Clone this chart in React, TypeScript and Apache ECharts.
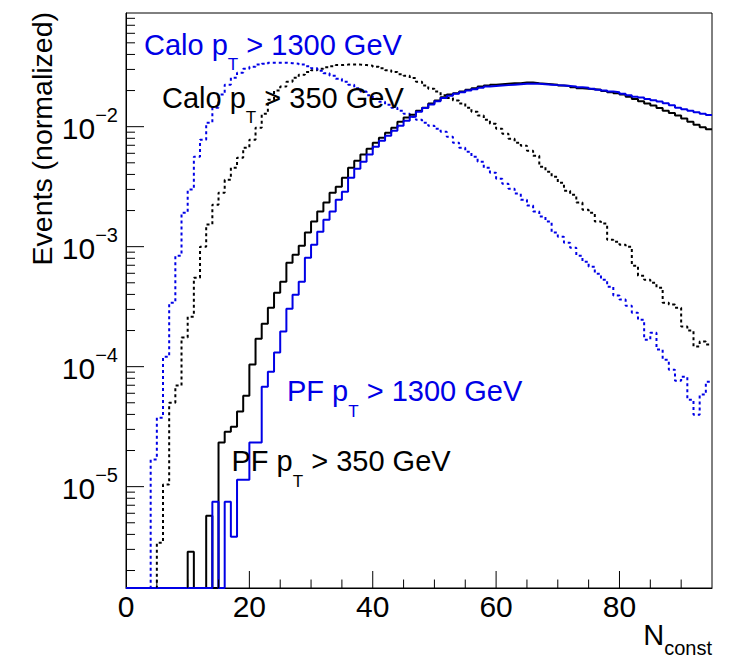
import React, { useEffect, useRef } from "react";
import * as echarts from "echarts";

// ---- data (per-bin contents, bins of width 1 from 0 to 95) ----
const X_MIN = 0;
const X_MAX = 95;
const Y_MIN = 1.43e-6;
const Y_MAX = 0.0886;

const CALO_1300 = [
  0, 0, 0, 0, 1.68e-5, 3.76e-5, 1.21e-4, 3.41e-4, 8.41e-4, 1.92e-3,
  2.99e-3, 5.62e-3, 7.8e-3, 1.08e-2, 1.44e-2, 1.85e-2, 2.24e-2, 2.56e-2, 2.82e-2, 3.04e-2,
  3.16e-2, 3.29e-2, 3.35e-2, 3.41e-2, 3.41e-2, 3.41e-2, 3.38e-2, 3.35e-2, 3.29e-2, 3.19e-2,
  3.07e-2, 2.93e-2, 2.79e-2, 2.66e-2, 2.51e-2, 2.37e-2, 2.24e-2, 2.09e-2, 1.96e-2, 1.83e-2,
  1.71e-2, 1.61e-2, 1.52e-2, 1.44e-2, 1.36e-2, 1.28e-2, 1.21e-2, 1.14e-2, 1.08e-2, 1.02e-2,
  9.62e-3, 9.09e-3, 8.25e-3, 7.36e-3, 6.68e-3, 6.19e-3, 5.62e-3, 5.11e-3, 4.55e-3, 4.14e-3,
  3.69e-3, 3.35e-3, 3.04e-3, 2.77e-3, 2.46e-3, 2.2e-3, 1.96e-3, 1.78e-3, 1.62e-3, 1.31e-3,
  1.21e-3, 1.08e-3, 9.81e-4, 8.41e-4, 7.5e-4, 6.81e-4, 5.96e-4, 5.31e-4, 4.64e-4, 3.91e-4,
  3.62e-4, 3.22e-4, 2.82e-4, 2.46e-4, 1.68e-4, 1.92e-4, 1.39e-4, 1.14e-4, 9.44e-5, 7.64e-5,
  8.25e-5, 5.31e-5, 3.98e-5, 5.85e-5, 7.5e-5,
];

const CALO_350 = [
  0, 0, 0, 0, 0, 3.41e-6, 1.04e-5, 5.01e-5, 6.95e-5, 1.75e-4,
  2.61e-4, 5.52e-4, 1.0e-3, 1.53e-3, 2.24e-3, 2.82e-3, 3.61e-3, 4.55e-3, 5.52e-3, 6.68e-3,
  7.8e-3, 9.81e-3, 1.28e-2, 1.68e-2, 2.0e-2, 2.16e-2, 2.37e-2, 2.56e-2, 2.71e-2, 2.85e-2,
  2.96e-2, 3.04e-2, 3.13e-2, 3.19e-2, 3.26e-2, 3.29e-2, 3.29e-2, 3.29e-2, 3.26e-2, 3.22e-2,
  3.16e-2, 3.07e-2, 2.96e-2, 2.85e-2, 2.74e-2, 2.66e-2, 2.54e-2, 2.37e-2, 2.2e-2, 2.07e-2,
  1.96e-2, 1.83e-2, 1.73e-2, 1.65e-2, 1.56e-2, 1.44e-2, 1.33e-2, 1.24e-2, 1.14e-2, 1.06e-2,
  9.62e-3, 8.75e-3, 7.94e-3, 7.36e-3, 6.95e-3, 6.31e-3, 5.73e-3, 4.64e-3, 4.22e-3, 3.83e-3,
  3.41e-3, 2.93e-3, 2.71e-3, 2.33e-3, 2.03e-3, 1.92e-3, 1.62e-3, 1.56e-3, 1.14e-3, 1.1e-3,
  1.04e-3, 1.0e-3, 6.95e-4, 5.73e-4, 5.31e-4, 5.01e-4, 4.55e-4, 3.41e-4, 3.29e-4, 3.1e-4,
  2.16e-4, 2.0e-4, 1.47e-4, 1.62e-4, 1.53e-4,
];

const PF_350 = [
  0, 0, 0, 0, 0, 0, 0, 0, 0, 0,
  2.87e-6, 0, 0, 5.73e-6, 0, 2.33e-5, 2.87e-5, 3.16e-5, 4.22e-5, 5.73e-5,
  1.04e-4, 1.71e-4, 2.28e-4, 3.1e-4, 4.14e-4, 5.11e-4, 7.36e-4, 8.57e-4, 1.02e-3, 1.31e-3,
  1.62e-3, 1.96e-3, 2.33e-3, 2.82e-3, 3.16e-3, 3.76e-3, 4.55e-3, 5.21e-3, 5.85e-3, 6.56e-3,
  7.36e-3, 8.09e-3, 8.91e-3, 9.81e-3, 1.1e-2, 1.19e-2, 1.26e-2, 1.36e-2, 1.44e-2, 1.56e-2,
  1.65e-2, 1.76e-2, 1.85e-2, 1.9e-2, 1.96e-2, 2.03e-2, 2.09e-2, 2.16e-2, 2.2e-2, 2.24e-2,
  2.26e-2, 2.28e-2, 2.3e-2, 2.3e-2, 2.33e-2, 2.33e-2, 2.3e-2, 2.28e-2, 2.26e-2, 2.24e-2,
  2.2e-2, 2.18e-2, 2.13e-2, 2.09e-2, 2.07e-2, 2.05e-2, 2.03e-2, 1.98e-2, 1.94e-2, 1.9e-2,
  1.85e-2, 1.78e-2, 1.7e-2, 1.63e-2, 1.56e-2, 1.5e-2, 1.43e-2, 1.36e-2, 1.3e-2, 1.24e-2,
  1.17e-2, 1.1e-2, 1.04e-2, 9.91e-3, 9.53e-3,
];

const PF_1300 = [
  0, 0, 0, 0, 0, 0, 0, 0, 0, 0,
  0, 0, 0, 0, 7.5e-6, 0, 7.5e-6, 3.83e-6, 1.14e-5, 1.14e-5,
  2.33e-5, 2.33e-5, 6.81e-5, 9.08e-5, 1.31e-4, 1.96e-4, 3.04e-4, 3.98e-4, 5.11e-4, 8.09e-4,
  1.04e-3, 1.33e-3, 1.68e-3, 1.96e-3, 2.46e-3, 2.87e-3, 3.76e-3, 4.47e-3, 5.11e-3, 5.85e-3,
  6.81e-3, 7.64e-3, 8.41e-3, 9.27e-3, 1.02e-2, 1.12e-2, 1.21e-2, 1.33e-2, 1.43e-2, 1.53e-2,
  1.63e-2, 1.73e-2, 1.81e-2, 1.88e-2, 1.94e-2, 2.0e-2, 2.05e-2, 2.11e-2, 2.16e-2, 2.18e-2,
  2.2e-2, 2.22e-2, 2.24e-2, 2.26e-2, 2.28e-2, 2.28e-2, 2.28e-2, 2.26e-2, 2.24e-2, 2.22e-2,
  2.2e-2, 2.18e-2, 2.16e-2, 2.13e-2, 2.11e-2, 2.07e-2, 2.03e-2, 2.0e-2, 1.96e-2, 1.94e-2,
  1.88e-2, 1.83e-2, 1.78e-2, 1.75e-2, 1.7e-2, 1.66e-2, 1.62e-2, 1.57e-2, 1.51e-2, 1.44e-2,
  1.4e-2, 1.36e-2, 1.32e-2, 1.28e-2, 1.25e-2,
];

// tick positions
const X_MAJOR_TICKS = [20, 40, 60, 80];
const X_MINOR_TICKS = [5, 10, 15, 25, 30, 35, 45, 50, 55, 65, 70, 75, 85, 90];
const Y_DECADES = [1e-6, 1e-5, 1e-4, 1e-3, 1e-2];
const Y_MINOR_MULTIPLIERS = [2, 3, 4, 5, 6, 7, 8, 9];

// texts
const Y_TITLE = "Events (normalized)";
const X_TITLE_MAIN = "N";
const X_TITLE_SUB = "const";
const LABELS = [
  { pre: "Calo p", sub: "T", post: " > 1300 GeV", color: "#0000e6", x: 144, baseline: 55 },
  { pre: "Calo p", sub: "T", post: " > 350 GeV", color: "#000000", x: 162, baseline: 108 },
  { pre: "PF p", sub: "T", post: " > 1300 GeV", color: "#0000e6", x: 287, baseline: 401.5 },
  { pre: "PF p", sub: "T", post: " > 350 GeV", color: "#000000", x: 231.5, baseline: 471.5 },
];

// layout
const GRID = { left: 126, right: 20, top: 13, bottom: 70 };
const CHART_W = 732;
const CHART_H = 658;
const PLOT_W = CHART_W - GRID.left - GRID.right;
const PLOT_H = CHART_H - GRID.top - GRID.bottom;

const BLUE = "#0000e6";
const FONT = '"Liberation Sans", Arial, Helvetica, sans-serif';

function histData(vals: number[]) {
  const pts: number[][] = vals.map((v, i) => [X_MIN + i, v > 0 ? v : Y_MIN]);
  const last = vals[vals.length - 1];
  pts.push([X_MIN + vals.length, last > 0 ? last : Y_MIN]);
  return pts;
}

function latexText(l: typeof LABELS[number]) {
  return {
    type: "text",
    x: l.x,
    y: l.baseline - 24.55,
    z: 10,
    style: {
      text: `{m|${l.pre}}{s|${l.sub}}{m|${l.post}}`,
      align: "left",
      verticalAlign: "top",
      fill: l.color,
      rich: {
        m: { fontSize: 29, fontFamily: FONT, fill: l.color, verticalAlign: "top" },
        s: { fontSize: 17, fontFamily: FONT, fill: l.color, verticalAlign: "top", padding: [26, 0, 0, 0] },
      },
    },
  };
}

// tick lengths in pixels, turned into axis units
const decades = Math.log10(Y_MAX / Y_MIN);
const xTickTop = (lenPx: number) => Y_MIN * Math.pow(10, (lenPx / PLOT_H) * decades);
const yTickEnd = (lenPx: number) => X_MIN + (lenPx / PLOT_W) * (X_MAX - X_MIN);

function xTickData(xs: number[], lenPx: number) {
  const out: any[] = [];
  xs.forEach((x) => {
    out.push([x, Y_MIN], [x, xTickTop(lenPx)], [x, "-"]);
  });
  return out;
}

function yTickData(ys: number[], lenPx: number) {
  const out: any[] = [];
  ys.forEach((y) => {
    out.push([X_MIN, y], [yTickEnd(lenPx), y], ["-", y]);
  });
  return out;
}

function tickLineSeries(data: any[]) {
  return {
    type: "line",
    data,
    symbol: "none",
    showSymbol: false,
    connectNulls: false,
    clip: false,
    silent: true,
    lineStyle: { color: "#000", width: 1, type: "solid" },
    z: 5,
  };
}

export default function App() {
  const ref = useRef<HTMLDivElement>(null);

  useEffect(() => {
    if (!ref.current) return;
    const chart = echarts.init(ref.current, undefined, { renderer: "svg" });

    const yMajor: number[] = [];
    const yMinor: number[] = [];
    Y_DECADES.forEach((d) => {
      if (d > Y_MIN && d < Y_MAX) yMajor.push(d);
      Y_MINOR_MULTIPLIERS.forEach((m) => {
        const v = d * m;
        if (v > Y_MIN && v < Y_MAX) yMinor.push(v);
      });
    });

    const line = (name: string, vals: number[], color: string, dotted: boolean) => ({
      name,
      type: "line",
      step: "end",
      data: histData(vals),
      symbol: "none",
      showSymbol: false,
      lineStyle: { color, width: 2, type: dotted ? [3, 3] : "solid" },
      z: 3,
    });

    const option: any = {
      animation: false,
      textStyle: { fontFamily: FONT },
      grid: {
        ...GRID,
        show: true,
        borderColor: "#000",
        borderWidth: 1,
        containLabel: false,
      },
      xAxis: {
        type: "value",
        min: X_MIN,
        max: X_MAX,
        interval: 20,
        position: "bottom",
        axisLine: { show: true, lineStyle: { color: "#000", width: 1 } },
        axisTick: { show: false },
        axisLabel: {
          show: true,
          margin: 3,
          fontSize: 30,
          color: "#000",
          fontFamily: FONT,
          showMaxLabel: false,
          hideOverlap: false,
        },
        splitLine: { show: false },
      },
      yAxis: {
        type: "log",
        logBase: 10,
        min: Y_MIN,
        max: Y_MAX,
        position: "left",
        axisLine: { show: true, lineStyle: { color: "#000", width: 1 } },
        axisTick: { show: false },
        axisLabel: {
          show: true,
          margin: 8,
          showMinLabel: false,
          showMaxLabel: false,
          hideOverlap: false,
          color: "#000",
          padding: [0, 0, 5, 0],
          formatter: (v: number) => {
            const e = Math.round(Math.log10(v));
            return `{b|10}{sup|${e < 0 ? "\u2212" : ""}${Math.abs(e)}}`;
          },
          rich: {
            b: { fontSize: 30, fontFamily: FONT, color: "#000", verticalAlign: "bottom" },
            sup: { fontSize: 20, fontFamily: FONT, color: "#000", verticalAlign: "top", padding: [0, 0, 18, 0] },
          },
        },
        splitLine: { show: false },
        minorTick: { show: false },
      },
      series: [
        line("Calo pT > 350 GeV", CALO_350, "#000000", true),
        line("Calo pT > 1300 GeV", CALO_1300, BLUE, true),
        line("PF pT > 350 GeV", PF_350, "#000000", false),
        line("PF pT > 1300 GeV", PF_1300, BLUE, false),
        tickLineSeries(xTickData(X_MAJOR_TICKS, 17)),
        tickLineSeries(xTickData(X_MINOR_TICKS, 8.5)),
        tickLineSeries(yTickData(yMajor, 18)),
        tickLineSeries(yTickData(yMinor, 9)),
      ],
      graphic: [
        ...LABELS.map(latexText),
        {
          type: "text",
          x: 42,
          y: 12,
          rotation: Math.PI / 2,
          style: {
            text: Y_TITLE,
            align: "right",
            verticalAlign: "middle",
            fontSize: 28.5,
            fontFamily: FONT,
            fill: "#000",
          },
        },
        {
          type: "text",
          x: 712,
          y: 620.5,
          style: {
            text: `{n|${X_TITLE_MAIN}}{s|${X_TITLE_SUB}}`,
            align: "right",
            verticalAlign: "top",
            fill: "#000",
            rich: {
              n: { fontSize: 29, fontFamily: FONT, fill: "#000", verticalAlign: "top" },
              s: { fontSize: 20, fontFamily: FONT, fill: "#000", verticalAlign: "top", padding: [17, 0, 0, 0] },
            },
          },
        },
      ],
    };

    chart.setOption(option);
    return () => chart.dispose();
  }, []);

  return (
    <div
      ref={ref}
      style={{ position: "fixed", left: 0, top: 0, width: CHART_W, height: CHART_H, background: "#fff" }}
    />
  );
}
